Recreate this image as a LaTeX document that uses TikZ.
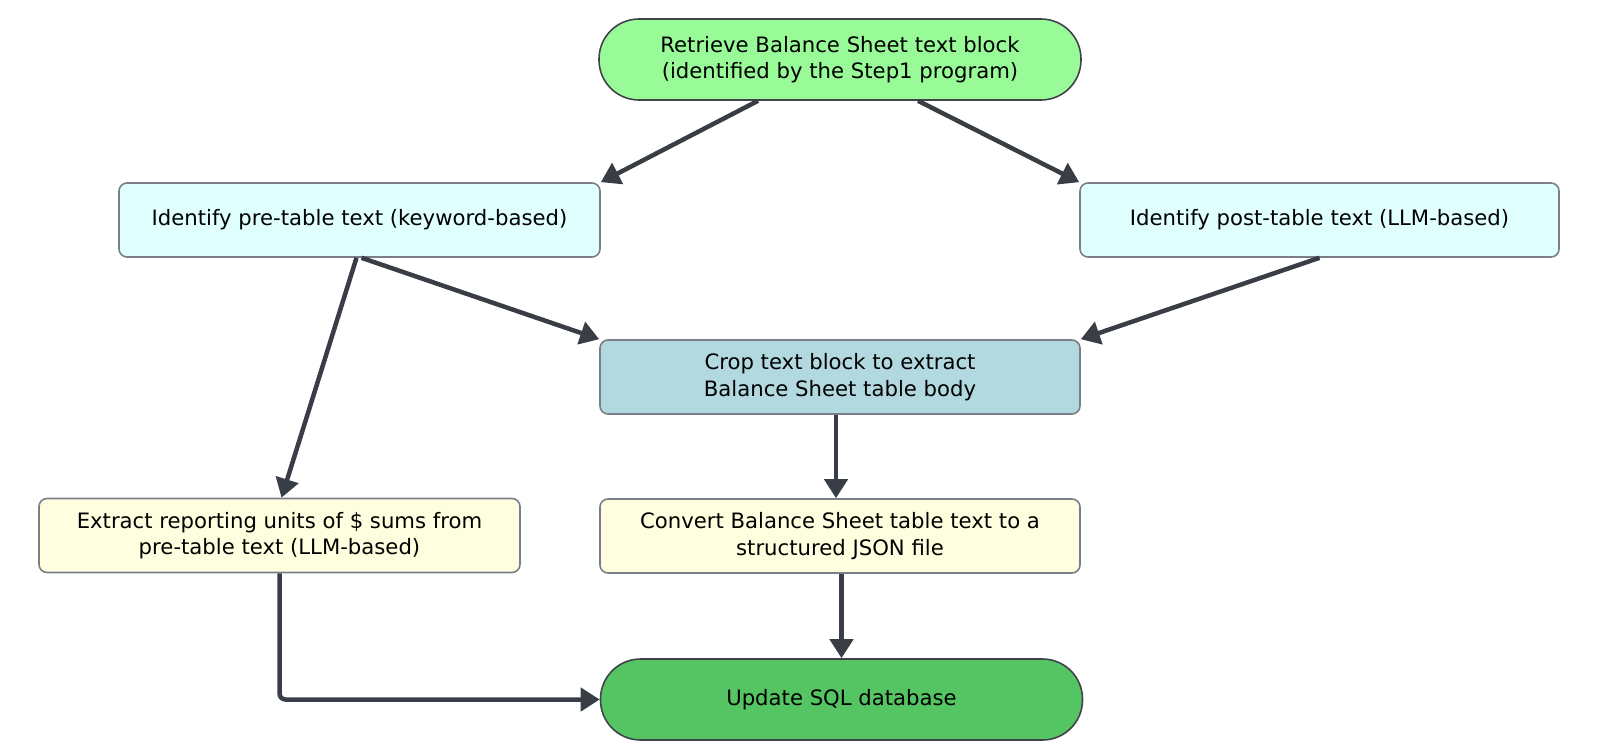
\documentclass[tikz,border=0pt]{standalone}
\usepackage{fontspec}
\setmainfont{DejaVu Sans}
\usetikzlibrary{arrows.meta}
\definecolor{linec}{HTML}{393E46}
\definecolor{boxborder}{HTML}{7A7F87}
\definecolor{stadborder}{HTML}{3F444C}
\definecolor{topfill}{HTML}{98FB98}
\definecolor{cyanfill}{HTML}{E0FFFF}
\definecolor{cropfill}{HTML}{B2D8E0}
\definecolor{yelfill}{HTML}{FFFFE0}
\definecolor{sqlfill}{HTML}{55C462}
\begin{document}
\begin{tikzpicture}[x=1pt,y=-1pt,
  every node/.style={font=\fontsize{21.2}{26.5}\selectfont, align=center, inner sep=0pt},
  boxnode/.style={draw=boxborder, line width=1.6pt, rounded corners=8pt, minimum height=74pt},
  stadium/.style={draw=stadborder, line width=1.6pt, rounded corners=40pt, minimum height=81pt, minimum width=482pt},
  flow/.style={draw=linec, line width=4.5pt, -{Triangle[length=19pt,width=23pt]}}
]
\useasboundingbox (0,0) rectangle (1600,752);
\node[stadium, fill=topfill] (top) at (840,59.5) {Retrieve Balance Sheet text block\\(identified by the Step1 program)};
\node[boxnode, fill=cyanfill, minimum width=481pt] (pre) at (359.5,220) {Identify pre-table text (keyword-based)};
\node[boxnode, fill=cyanfill, minimum width=479pt] (post) at (1319.5,220) {Identify post-table text (LLM-based)};
\node[boxnode, fill=cropfill, minimum width=480pt] (crop) at (840,377) {Crop text block to extract\\Balance Sheet table body};
\node[boxnode, fill=yelfill, minimum width=481pt] (extract) at (279.5,535.5) {Extract reporting units of \$ sums from\\pre-table text (LLM-based)};
\node[boxnode, fill=yelfill, minimum width=480pt] (convert) at (840,536) {Convert Balance Sheet table text to a\\structured JSON file};
\node[stadium, fill=sqlfill] (sql) at (841.5,699.5) {Update SQL database};

\draw[flow] ([xshift=-82pt]top.south) -- (pre.north east);
\draw[flow] ([xshift=78pt]top.south) -- (post.north west);
\draw[flow] ([xshift=2pt]pre.south) -- (crop.north west);
\draw[flow] ([xshift=-3pt]pre.south) -- ([xshift=2pt]extract.north);
\draw[flow] (post.south) -- (crop.north east);
\draw[flow] ([xshift=-4pt]crop.south) -- ([xshift=-4pt]convert.north);
\draw[flow] ([xshift=1.5pt]convert.south) -- (sql.north);
\draw[flow, rounded corners=6pt] (extract.south) |- (sql.west);
\end{tikzpicture}
\end{document}
